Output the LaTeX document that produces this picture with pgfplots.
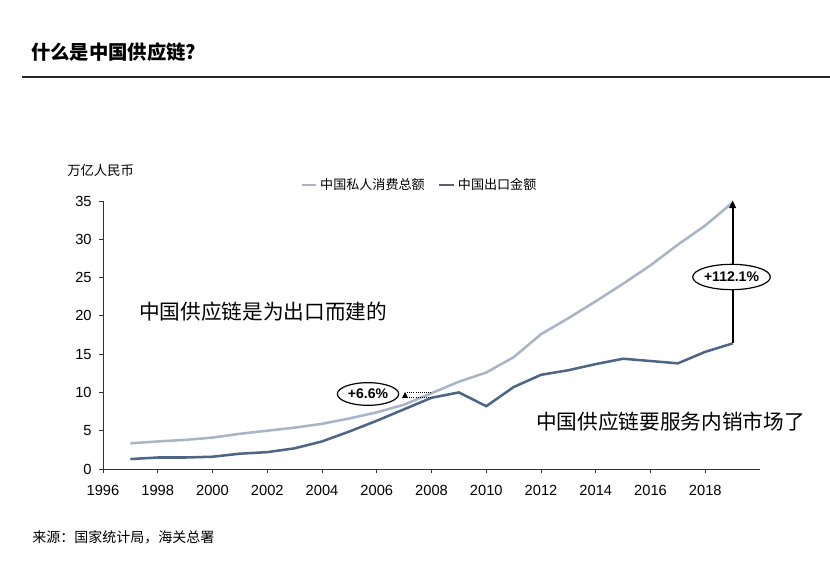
\documentclass[border=0pt]{standalone}
\usepackage{fontspec}
\usepackage{pgfplots}
\pgfplotsset{compat=1.18}
\usetikzlibrary{shapes.geometric,arrows.meta}
\setmainfont{Liberation Sans}
\newfontfamily\cjk{Noto Sans CJK SC}
\definecolor{cons}{HTML}{A9B5C6}
\definecolor{expo}{HTML}{4F6585}
\begin{document}
\begin{tikzpicture}[x=0.75pt,y=0.75pt]
\useasboundingbox (0,0) rectangle (830,566);
% title and rule
\node[anchor=west,inner sep=0] at (31,514) {\cjk\bfseries\fontsize{14.5}{16}\selectfont 什么是中国供应链?};
\draw[line width=1.5pt,black!85] (22,489) -- (830,489);
% unit label
\node[anchor=west,inner sep=0] at (67,396) {\cjk\fontsize{10}{12}\selectfont 万亿人民币};
% source
\node[anchor=west,inner sep=0] at (32,29) {\cjk\fontsize{10.5}{12}\selectfont 来源：国家统计局，海关总署};
\coordinate (axo) at (103,97);
\begin{axis}[
  at={(axo)}, anchor=south west,
  scale only axis, width=492.75pt, height=201pt,
  xmin=1996, xmax=2020, ymin=0, ymax=35,
  axis lines=left, axis line style={-, black!80, line width=0.7pt},
  xtick={1996,1998,...,2018}, ytick={0,5,...,35},
  tick align=outside, major tick length=3pt,
  tick style={black!80, line width=0.7pt},
  x tick label style={/pgf/number format/1000 sep={}, yshift=-6pt},
  y tick label style={xshift=-2pt},
  tick label style={font=\fontsize{11}{12}\selectfont, black},
  /pgf/number format/assume math mode=true,
  clip=false,
  legend columns=2,
  legend style={draw=none, fill=none, at={(0.482,1.06)}, anchor=center,
    font=\cjk\fontsize{9.8}{11}\selectfont,
    /tikz/every even column/.append style={column sep=8pt}},
  legend image code/.code={\draw[#1] (0pt,0pt) -- (11pt,0pt);},
]
\addplot[cons, line width=1.9pt] coordinates {
(1997,3.35) (1998,3.6) (1999,3.8) (2000,4.1) (2001,4.6) (2002,5.0) (2003,5.4)
(2004,5.9) (2005,6.6) (2006,7.4) (2007,8.4) (2008,9.9) (2009,11.4) (2010,12.6)
(2011,14.6) (2012,17.6) (2013,19.7) (2014,21.9) (2015,24.2) (2016,26.6)
(2017,29.3) (2018,31.8) (2019,34.8)};
\addlegendentry{中国私人消费总额}
\addplot[expo, line width=1.9pt] coordinates {
(1997,1.3) (1998,1.5) (1999,1.5) (2000,1.6) (2001,2.0) (2002,2.2) (2003,2.7)
(2004,3.6) (2005,4.9) (2006,6.3) (2007,7.8) (2008,9.3) (2009,10.0) (2010,8.2)
(2011,10.7) (2012,12.3) (2013,12.9) (2014,13.7) (2015,14.4) (2016,14.1)
(2017,13.8) (2018,15.3) (2019,16.4)};
\addlegendentry{中国出口金额}
\draw[line width=1.5pt, -{Triangle[length=6pt,width=5pt]}] (axis cs:2019,16.4) -- (axis cs:2019,35.1);
\end{axis}
% annotations
\node[ellipse, draw=black, line width=0.9pt, fill=white, inner sep=0pt, minimum width=57pt, minimum height=19pt]
  at (731.5,289) {\bfseries\fontsize{10.5}{12}\selectfont +112.1\%};
\node[ellipse, draw=black, line width=0.9pt, fill=white, inner sep=0pt, minimum width=46pt, minimum height=17pt]
  at (368,172) {\bfseries\fontsize{10.5}{12}\selectfont +6.6\%};
\fill (402,168) -- (408,168) -- (405,174) -- cycle;
\draw[densely dotted, line width=0.6pt] (407,174) -- (432,174);
\draw[densely dotted, line width=0.6pt] (407,169) -- (432,169);
% big texts
\node[anchor=west,inner sep=0] at (139,254) {\cjk\fontsize{15.5}{18}\selectfont 中国供应链是为出口而建的};
\node[anchor=west,inner sep=0] at (536,144) {\cjk\fontsize{15.5}{18}\selectfont 中国供应链要服务内销市场了};
\end{tikzpicture}
\end{document}
